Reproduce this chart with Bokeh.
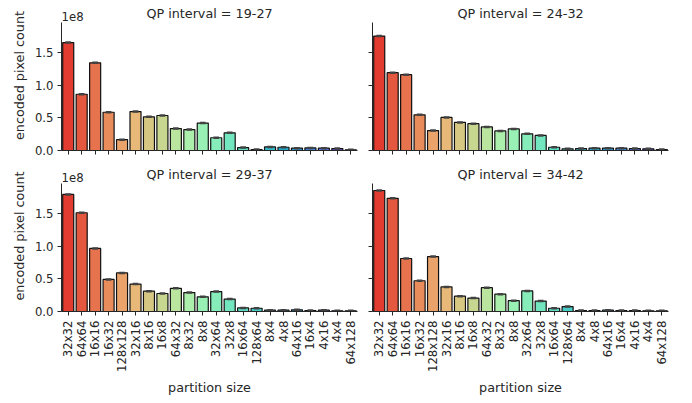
import colorsys, math
from bokeh.plotting import figure
from bokeh.layouts import gridplot
from bokeh.models import (ColumnDataSource, FixedTicker, NumeralTickFormatter, Label, Range1d,
                          CustomJSTickFormatter)
from bokeh.embed import file_html
from bokeh.resources import INLINE

categories = ["32x32", "64x64", "16x16", "16x32", "128x128", "32x16", "8x16", "16x8",
              "64x32", "8x32", "8x8", "32x64", "32x8", "16x64", "128x64", "8x4", "4x8",
              "64x16", "16x4", "4x16", "4x4", "64x128"]

titles = ["QP interval = 19-27", "QP interval = 24-32", "QP interval = 29-37", "QP interval = 34-42"]

# encoded pixel count, in units of 1e8
qp_19_27 = [1.65, 0.86, 1.34, 0.585, 0.165, 0.595, 0.515, 0.535, 0.335, 0.32, 0.42, 0.195,
            0.27, 0.045, 0.015, 0.055, 0.05, 0.035, 0.04, 0.035, 0.03, 0.01]
qp_24_32 = [1.75, 1.19, 1.16, 0.545, 0.305, 0.505, 0.43, 0.41, 0.36, 0.30, 0.33, 0.255,
            0.23, 0.05, 0.025, 0.03, 0.035, 0.035, 0.035, 0.03, 0.025, 0.015]
qp_29_37 = [1.79, 1.51, 0.965, 0.49, 0.59, 0.42, 0.31, 0.275, 0.355, 0.29, 0.225, 0.305,
            0.19, 0.055, 0.05, 0.02, 0.02, 0.025, 0.015, 0.02, 0.01, 0.01]
qp_34_42 = [1.85, 1.73, 0.81, 0.47, 0.84, 0.375, 0.235, 0.205, 0.365, 0.265, 0.165, 0.315,
            0.16, 0.05, 0.075, 0.015, 0.015, 0.02, 0.015, 0.015, 0.01, 0.01]

y_ticks = [0.0, 0.5, 1.0, 1.5]
y_max = 1.957
scale_label = "1e8"
x_label = "partition size"
y_label = "encoded pixel count"

FONT = "DejaVu Sans"
TXT = "#262626"
FS_TICK = "11.7px"
FS_LAB = "12.75px"


def rainbow(x):
    r = min(1.0, max(0.0, abs(2 * x - 0.5)))
    g = min(1.0, max(0.0, math.sin(x * math.pi)))
    b = min(1.0, max(0.0, math.cos(x * math.pi / 2)))
    return r, g, b


def desat(rgb, f=0.75):
    h, l, s = colorsys.rgb_to_hls(*rgb)
    r, g, b = colorsys.hls_to_rgb(h, l, s * f)
    return "#%02x%02x%02x" % (round(r * 255), round(g * 255), round(b * 255))


n = len(categories)
colors = [desat(rainbow(1 - (i + 1) / (n + 1))) for i in range(n)]

FW, FH = 296, 128


def make(values, title, left, bottom):
    head = 23 if bottom else 22   # header strip (title area) inside the frame
    p = figure(x_range=categories, y_range=Range1d(0, y_max * (FH + head) / FH),
               frame_width=FW, frame_height=FH + head, output_backend="svg",
               toolbar_location=None)
    p.min_border_left = 61 if left else 12
    p.min_border_right = 3 if left else 10
    p.min_border_top = 0
    p.min_border_bottom = 10 if not bottom else 60
    p.outline_line_color = None
    p.xgrid.visible = False
    p.ygrid.visible = False
    p.background_fill_color = "white"
    p.border_fill_color = "white"

    src = ColumnDataSource(dict(cat=categories, val=values, color=colors))
    p.vbar(x="cat", top="val", width=0.82, source=src, fill_color="color",
           line_color="#111111", line_width=1.2)
    p.rect(x="cat", y="val", width=0.42, height=2.5, height_units="screen",
           source=src, fill_color="#424242", line_color=None)

    for ax in (p.xaxis[0], p.yaxis[0]):
        ax.axis_line_color = TXT
        ax.axis_line_width = 1.0
        ax.major_tick_line_color = TXT
        ax.major_tick_out = 4
        ax.major_tick_in = 0
        ax.minor_tick_line_color = None
        ax.major_label_text_font = FONT
        ax.major_label_text_font_size = FS_TICK
        ax.major_label_text_color = TXT
        ax.axis_label_text_font = FONT
        ax.axis_label_text_font_size = FS_LAB
        ax.axis_label_text_font_style = "normal"
        ax.axis_label_text_color = TXT

    p.yaxis.ticker = FixedTicker(ticks=y_ticks)
    p.yaxis.bounds = (0, y_max)
    p.yaxis.major_label_standoff = 4
    if left:
        p.yaxis.formatter = NumeralTickFormatter(format="0.0")
        p.yaxis.axis_label = y_label
        p.yaxis.axis_label_standoff = 5
        p.add_layout(Label(x=0, y=FH + 6, x_units="screen", y_units="screen",
                           text=scale_label, text_font=FONT, text_font_size=FS_TICK,
                           text_color=TXT, text_align="left", text_baseline="alphabetic"))
    else:
        p.yaxis.formatter = CustomJSTickFormatter(code="return ''")
        p.yaxis.major_label_standoff = 0

    if bottom:
        p.xaxis.major_label_orientation = math.pi / 2
        p.xaxis.major_label_standoff = 5
        p.xaxis.axis_label = x_label
        p.xaxis.axis_label_standoff = 5
    else:
        p.xaxis.formatter = CustomJSTickFormatter(code="return ''")
        p.xaxis.major_label_standoff = 0

    p.add_layout(Label(x=FW / 2, y=FH + 9, x_units="screen", y_units="screen",
                       text=title, text_font=FONT, text_font_size=FS_LAB,
                       text_color=TXT, text_align="center", text_baseline="alphabetic"))
    return p


p1 = make(qp_19_27, titles[0], True, False)
p2 = make(qp_24_32, titles[1], False, False)
p3 = make(qp_29_37, titles[2], True, True)
p4 = make(qp_34_42, titles[3], False, True)

grid = gridplot([[p1, p2], [p3, p4]], toolbar_location=None)

open("out.html", "w").write(file_html(grid, INLINE))
